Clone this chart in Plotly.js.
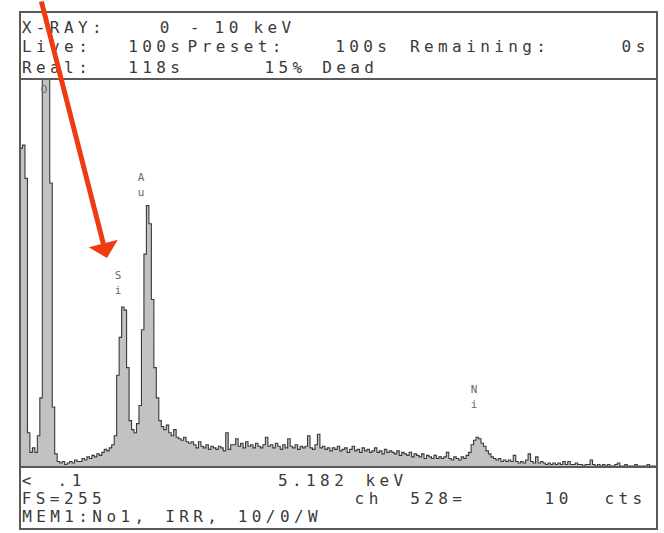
<!DOCTYPE html>
<html>
<head>
<meta charset="utf-8">
<script src="https://cdn.plot.ly/plotly-3.0.1.min.js"></script>
<style>
  html, body { margin: 0; padding: 0; background: #ffffff; }
  #chart { width: 664px; height: 533px; }
  g.annotation text.annotation-text { letter-spacing: 4.4px; }
</style>
</head>
<body>
<div id="chart"></div>
<script>
// ---- Data ----
const startEnergy = 0.10;     // keV, energy of first channel
const channelWidth = 0.04;    // keV per displayed channel
const counts = [
  210, 212, 190, 22, 9, 12, 9, 20, 45, 330, 330, 330, 187, 39, 8,
  3, 2, 3, 1, 2, 3, 2, 4, 3, 3, 5, 4, 6, 5, 7, 6, 8, 7, 9, 11, 10, 12, 14, 20,
  60, 85, 105, 103, 65, 30, 24, 22,
  28, 40, 90, 140, 172, 160, 110, 65, 45, 30, 26, 24, 27,
  22, 20, 24, 19, 18, 17, 19, 16, 15, 16, 14, 12, 16, 13, 12, 14, 11, 13, 12, 11, 13, 12, 10, 22, 11, 14,
  14, 18, 13, 15, 12, 16, 13, 14, 12, 15, 13, 12, 14, 19,
  13, 14, 12, 15, 13, 11, 14, 12, 18, 13, 12, 14, 11, 13, 12,
  13, 20, 12, 11, 14, 21, 12, 13, 11, 12, 10, 12, 11, 13, 10,
  11, 12, 9, 11, 13, 10, 11, 9, 12, 10, 11, 9, 10, 12, 9, 10, 8, 11, 9, 10,
  9, 8, 10, 7, 9, 8, 7, 9, 6, 8, 7, 6, 8, 5, 7, 6, 5, 7, 5, 6,
  5, 6, 9, 5, 4, 6, 5, 4, 6, 5, 7, 9,
  14, 17, 19, 18, 15, 13, 10, 8, 6,
  5, 4, 5, 3, 4, 3, 4, 3, 7,
  3, 2, 3, 2, 4, 8, 3, 2, 6, 2, 3, 2, 1, 2, 1, 2,
  1, 2, 1, 3, 1, 3, 1, 1, 2, 1, 1, 0, 1, 1, 4, 1, 0, 1, 0, 1,
  0, 1, 0, 0, 1, 2, 0, 0, 1, 0, 0, 0, 1, 0, 0, 0, 0, 1, 0, 0, 0
];
const peakLabels = ["O", "Si", "Au", "Ni"];
const peakEnergies = [0.53, 1.72, 2.10, 7.47];
const peakLabelCounts = [243, 120, 185, 45];

const headerRows = [
  ["X-RAY:", "0", "-", "10", "keV"],
  ["Live:", "100s", "Preset:", "100s", "Remaining:", "0s"],
  ["Real:", "118s", "15%", "Dead"]
];
const footerRows = [
  ["<", ".1", "5.182", "keV"],
  ["FS=255", "ch", "528=", "10", "cts"],
  ["MEM1:No1,", "IRR,", "10/0/W"]
];

// ---- Layout geometry (pixels) ----
const W = 664, H = 533;
const PL = 20, PR = 657, PT = 80, PB = 466;
const xRange = [0.10, 10.38];
const yRange = [0, 255];
const SPACING = 4.4;
function P(x, y) { return { x: (x - PL) / (PR - PL), y: (PB - y) / (PB - PT) }; }

const headerX = [
  [22, 160, 190, 215, 254],
  [22, 128, 188, 335, 410, 622],
  [22, 128, 265, 322]
];
const headerY = [28, 47, 67];
const footerX = [
  [22, 58, 278, 366],
  [22, 355, 410, 545, 605],
  [22, 165, 238]
];
const footerY = [481, 498, 516];

// ---- Build spectrum trace ----
const xs = counts.map((c, i) => startEnergy + channelWidth * i);
const ys = counts.slice();
xs.push(startEnergy + channelWidth * counts.length);
ys.push(counts[counts.length - 1]);

const spectrum = {
  type: 'scatter', mode: 'lines',
  x: xs, y: ys,
  line: { shape: 'hv', color: '#3a3a3a', width: 1.1 },
  fill: 'tozeroy', fillcolor: '#c2c2c2',
  hoverinfo: 'skip', showlegend: false
};

const txtFont = { family: 'DejaVu Sans Mono, monospace', size: 16, color: '#3a3a3a' };
const annotations = [];
function addRows(rows, xsPix, yPix) {
  rows.forEach((row, r) => {
    row.forEach((word, k) => {
      const p = P(xsPix[r][k], yPix[r]);
      annotations.push({ xref: 'paper', yref: 'paper', x: p.x, y: p.y,
        xanchor: 'left', yanchor: 'middle', text: word, showarrow: false, font: txtFont,
        xshift: (SPACING / 2) * (word.length - 1) });
    });
  });
}
addRows(headerRows, headerX, headerY);
addRows(footerRows, footerX, footerY);

// vertical peak labels (letters stacked)
const labFont = { family: 'DejaVu Sans Mono, monospace', size: 11, color: '#6a6a6a' };
peakLabels.forEach((lab, i) => {
  lab.split('').forEach((ch, j) => {
    annotations.push({ xref: 'x', yref: 'y',
      x: peakEnergies[i], y: peakLabelCounts[i],
      yshift: -j * 15, xanchor: 'center', yanchor: 'bottom', text: ch, showarrow: false,
      font: labFont });
  });
});

// red arrow
const tip = P(107, 258);
annotations.push({ xref: 'paper', yref: 'paper', x: tip.x, y: tip.y, text: '',
  showarrow: true, arrowhead: 1, arrowsize: 1.0, arrowwidth: 5, arrowcolor: '#f03a12',
  axref: 'pixel', ayref: 'pixel', ax: 41 - 107, ay: -8 - 258, standoff: 0 });

const lineCol = '#5a5a5a';
function hline(y) { const a = P(PL, y), b = P(PR, y);
  return { type: 'line', xref: 'paper', yref: 'paper', x0: a.x, y0: a.y, x1: b.x, y1: b.y, line: { color: lineCol, width: 2 } }; }
const ra = P(PL, 12), rb = P(PR, 529);
const shapes = [
  { type: 'rect', xref: 'paper', yref: 'paper', x0: ra.x, y0: ra.y, x1: rb.x, y1: rb.y, line: { color: lineCol, width: 2 } },
  hline(79), hline(467)
];

const layout = {
  width: W, height: H,
  margin: { l: PL, r: W - PR, t: PT, b: H - PB, pad: 0 },
  paper_bgcolor: '#ffffff', plot_bgcolor: '#ffffff',
  xaxis: { range: xRange, visible: false, fixedrange: true },
  yaxis: { range: yRange, visible: false, fixedrange: true },
  showlegend: false,
  annotations: annotations,
  shapes: shapes
};

Plotly.newPlot('chart', [spectrum], layout, { staticPlot: true, displayModeBar: false });
</script>
</body>
</html>
